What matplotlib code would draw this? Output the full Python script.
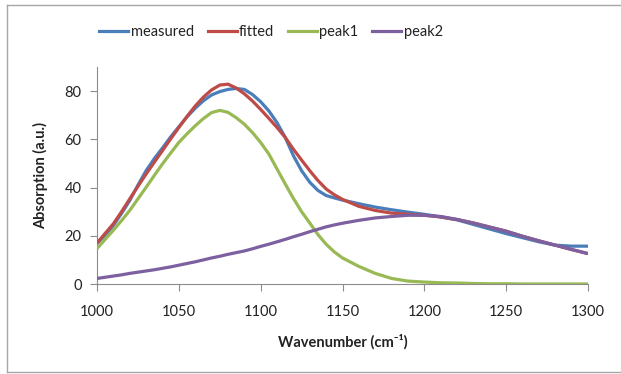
import matplotlib
matplotlib.use("Agg")
import matplotlib.pyplot as plt
from matplotlib.lines import Line2D

plt.rcParams['font.family'] = ['Lato', 'DejaVu Sans']

wavenumber = [1000, 1005, 1010, 1015, 1020, 1025, 1030, 1035, 1040, 1045,
              1050, 1055, 1060, 1065, 1070, 1075, 1080, 1085, 1090, 1095,
              1100, 1105, 1110, 1115, 1120, 1125, 1130, 1135, 1140, 1145,
              1150, 1160, 1170, 1180, 1190, 1200, 1210, 1220, 1230, 1240,
              1250, 1260, 1270, 1280, 1290, 1300]

measured = [16.8, 20.2, 24.3, 29.3, 34.6, 41.0, 47.0, 52.0, 56.4, 61.0,
            65.2, 69.3, 72.9, 76.0, 78.4, 79.8, 80.7, 81.1, 80.7, 78.6,
            75.6, 71.8, 66.9, 60.8, 53.2, 47.0, 42.2, 38.8, 36.7, 35.7,
            34.8, 33.3, 31.9, 30.8, 29.8, 28.9, 27.8, 26.6, 24.7, 22.8,
            20.9, 19.2, 17.5, 16.1, 15.7, 15.7]

fitted = [17.0, 21.0, 25.0, 30.0, 35.3, 40.5, 45.6, 50.5, 55.3, 60.2,
          64.9, 69.5, 73.8, 77.5, 80.5, 82.5, 82.9, 81.3, 78.9, 75.9,
          72.4, 68.7, 64.9, 60.8, 55.9, 51.4, 47.0, 42.9, 39.4, 37.0,
          35.1, 32.2, 30.5, 29.4, 28.9, 28.5, 27.8, 26.7, 25.3, 23.6,
          21.9, 19.8, 17.9, 16.1, 14.3, 12.6]

peak1 = [14.7, 18.5, 22.3, 26.3, 30.5, 35.3, 40.1, 45.0, 49.8, 54.3,
         58.7, 62.3, 65.6, 68.6, 71.1, 72.0, 71.2, 69.0, 66.3, 62.8,
         58.7, 53.9, 47.7, 41.5, 35.5, 30.0, 25.3, 20.5, 16.5, 13.3,
         10.8, 7.3, 4.4, 2.3, 1.2, 0.8, 0.5, 0.4, 0.2, 0.1,
         0.1, 0.0, 0.0, 0.0, 0.0, 0.0]

peak2 = [2.3, 2.8, 3.3, 3.8, 4.4, 4.9, 5.4, 5.9, 6.5, 7.1,
         7.8, 8.5, 9.2, 10.0, 10.8, 11.5, 12.3, 13.0, 13.7, 14.6,
         15.6, 16.5, 17.5, 18.5, 19.6, 20.6, 21.7, 22.7, 23.7, 24.5,
         25.2, 26.4, 27.4, 28.0, 28.5, 28.5, 28.0, 26.8, 25.3, 23.6,
         21.9, 19.8, 17.9, 16.1, 14.3, 12.6]

series_names = ["measured", "fitted", "peak1", "peak2"]
series_colors = ["#4A7EBB", "#BE4B48", "#98B954", "#7D60A0"]

x_ticks = [1000, 1050, 1100, 1150, 1200, 1250, 1300]
y_ticks = [0, 20, 40, 60, 80]

W, H = 621, 374
fig = plt.figure(figsize=(W / 100, H / 100), dpi=100)
ax = fig.add_axes([97 / W, 1 - 284 / H, (588 - 97) / W, (284 - 67) / H])

lw = 2.3
for z, (data, color) in enumerate(zip([measured, fitted, peak1, peak2], series_colors)):
    ax.plot(wavenumber, data, color=color, lw=lw, zorder=2 + z,
            solid_joinstyle="round", solid_capstyle="butt")

ax.set_xlim(1000, 1300)
ax.set_ylim(0, 90)
ax.set_xticks(x_ticks)
ax.set_yticks(y_ticks)
ax.set_xticklabels([str(t) for t in x_ticks])
ax.set_yticklabels([str(t) for t in y_ticks])

for s in ["top", "right"]:
    ax.spines[s].set_visible(False)
for s in ["left", "bottom"]:
    ax.spines[s].set_color("#8C8C8C")
    ax.spines[s].set_linewidth(0.8)
ax.tick_params(axis="both", direction="out", length=5, width=0.8, color="#8C8C8C",
               labelsize=10.5, labelcolor="#222222")
ax.tick_params(axis="x", pad=10)
ax.tick_params(axis="y", pad=6)

ax.set_xlabel("Wavenumber (cm\u207b\u00b9)", fontsize=10.5, fontweight="bold",
              color="#222222", labelpad=11)
ax.set_ylabel("Absorption (a.u.)", fontsize=10.5, fontweight="bold",
              color="#222222", labelpad=12)

handles = [Line2D([0], [0], color=c, lw=lw) for c in series_colors]
fig.legend(handles, series_names, loc="center", bbox_to_anchor=(271 / W, 1 - 32 / H),
           ncol=4, frameon=False, fontsize=10.5, handlelength=2.0, handletextpad=0.15,
           columnspacing=0.95, labelcolor="#222222")

# chart border
border_color = "#A6A6A6"
fig.add_artist(Line2D([7 / W, 7 / W], [1 - 5 / H, 1 - 372 / H], transform=fig.transFigure,
                      color=border_color, lw=1.0))
fig.add_artist(Line2D([7 / W, 1.0], [1 - 5 / H, 1 - 5 / H], transform=fig.transFigure,
                      color=border_color, lw=1.0))
fig.add_artist(Line2D([7 / W, 1.0], [1 - 372 / H, 1 - 372 / H], transform=fig.transFigure,
                      color=border_color, lw=1.0))

fig.savefig("out.png", dpi=100)
